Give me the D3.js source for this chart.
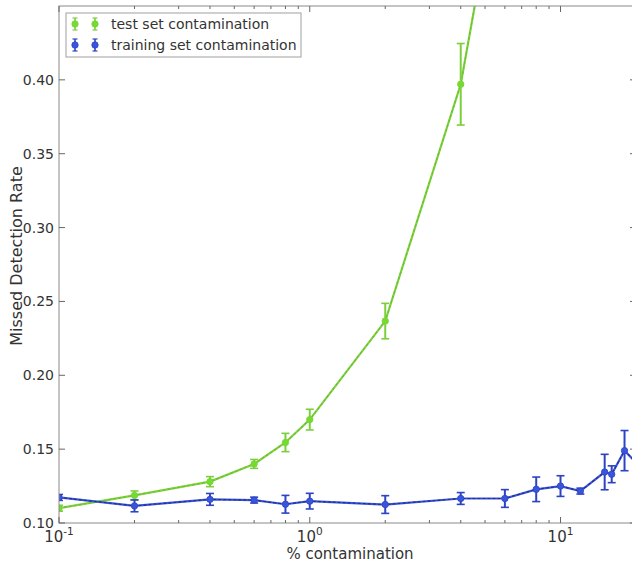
<!DOCTYPE html>
<html>
<head>
<meta charset="utf-8">
<script src="https://cdn.jsdelivr.net/npm/d3@7"></script>
<style>
  html, body { margin: 0; padding: 0; background: #fff; }
  svg { display: block; font-family: "DejaVu Sans", sans-serif; }
</style>
</head>
<body>
<svg id="chart" width="632" height="565"></svg>
<script>
// Contamination levels (%) and missed detection rates with their error bars
const testX   = [0.1, 0.2, 0.4, 0.6, 0.8, 1, 2, 4, 6];
const testY   = [0.110, 0.1187, 0.128, 0.140, 0.1545, 0.170, 0.2367, 0.397, 0.564];
const testErr = [0.002, 0.003, 0.0034, 0.003, 0.0062, 0.007, 0.012, 0.0276, 0.03];

const trainX   = [0.1, 0.2, 0.4, 0.6, 0.8, 1, 2, 4, 6, 8, 10, 12, 15, 16, 18, 20];
const trainY   = [0.1173, 0.1116, 0.116, 0.1155, 0.1127, 0.1148, 0.1125, 0.1166, 0.1166, 0.1228, 0.125, 0.1216, 0.1345, 0.133, 0.149, 0.141];
const trainErr = [0.002, 0.004, 0.004, 0.002, 0.006, 0.0053, 0.006, 0.004, 0.006, 0.0083, 0.007, 0.002, 0.012, 0.0057, 0.0136, 0.006];

const yTicks = [0.10, 0.15, 0.20, 0.25, 0.30, 0.35, 0.40];
const xMajor = [0.1, 1, 10];
const xMinor = [0.2,0.3,0.4,0.5,0.6,0.7,0.8,0.9,2,3,4,5,6,7,8,9,20];
const seriesNames = ["test set contamination", "training set contamination"];

const svg = d3.select("#chart");
const L = 59, R = 636, T = 6, B = 523;

const x = d3.scaleLog().domain([0.1, 20]).range([L, R]);
const y = d3.scaleLinear().domain([0.10, 0.45]).range([B, T]);

const series = [
  { name: seriesNames[0], xs: testX, ys: testY, es: testErr,
    color: "#72dd2c", bar: "#7ccf3c", dash: "#8d9a66" },
  { name: seriesNames[1], xs: trainX, ys: trainY, es: trainErr,
    color: "#3a55dc", bar: "#2c44c4", dash: "#1c2670" }
];

svg.append("clipPath").attr("id", "plotClip")
  .append("rect").attr("x", L).attr("y", T).attr("width", R - L).attr("height", B - T);

const plot = svg.append("g").attr("clip-path", "url(#plotClip)");

series.forEach(s => {
  const pts = s.xs.map((v, i) => ({ x: v, y: s.ys[i], e: s.es[i] }));
  const line = d3.line().x(d => x(d.x)).y(d => y(d.y));
  plot.append("path").datum(pts).attr("d", line)
    .attr("fill", "none").attr("stroke", s.color).attr("stroke-width", 2.2);
  plot.append("path").datum(pts).attr("d", line)
    .attr("fill", "none").attr("stroke", s.dash).attr("stroke-width", 1.1)
    .attr("stroke-dasharray", "3,2").attr("opacity", 0.8);

  const eb = plot.append("g").selectAll("g").data(pts).join("g");
  eb.append("line")
    .attr("x1", d => x(d.x)).attr("x2", d => x(d.x))
    .attr("y1", d => y(d.y - d.e)).attr("y2", d => y(d.y + d.e))
    .attr("stroke", s.bar).attr("stroke-width", 2);
  [1, -1].forEach(sgn => {
    eb.append("line")
      .attr("x1", d => x(d.x) - 4).attr("x2", d => x(d.x) + 4)
      .attr("y1", d => y(d.y + sgn * d.e)).attr("y2", d => y(d.y + sgn * d.e))
      .attr("stroke", s.bar).attr("stroke-width", 1.6);
  });
  plot.append("g").selectAll("circle").data(pts).join("circle")
    .attr("cx", d => x(d.x)).attr("cy", d => y(d.y)).attr("r", 3.2)
    .attr("fill", s.color).attr("stroke", s.bar).attr("stroke-width", 0.8);
});

// Frame
const axisColor = "#8a8a8a";
svg.append("rect").attr("x", L).attr("y", T).attr("width", R - L).attr("height", B - T)
  .attr("fill", "none").attr("stroke", axisColor).attr("stroke-width", 1);

// Inward ticks on all four sides
const tk = svg.append("g").attr("stroke", "#666").attr("stroke-width", 1);
yTicks.forEach(v => {
  tk.append("line").attr("x1", L).attr("x2", L + 6).attr("y1", y(v)).attr("y2", y(v));
  tk.append("line").attr("x1", R).attr("x2", R - 6).attr("y1", y(v)).attr("y2", y(v));
});
xMajor.forEach(v => {
  tk.append("line").attr("x1", x(v)).attr("x2", x(v)).attr("y1", B).attr("y2", B - 6);
  tk.append("line").attr("x1", x(v)).attr("x2", x(v)).attr("y1", T).attr("y2", T + 6);
});
xMinor.forEach(v => {
  tk.append("line").attr("x1", x(v)).attr("x2", x(v)).attr("y1", B).attr("y2", B - 3);
  tk.append("line").attr("x1", x(v)).attr("x2", x(v)).attr("y1", T).attr("y2", T + 3);
});

// Y tick labels
svg.append("g").selectAll("text").data(yTicks).join("text")
  .attr("x", L - 5).attr("y", d => y(d)).attr("dy", "0.36em")
  .attr("text-anchor", "end").attr("font-size", 14).attr("fill", "#333")
  .text(d => d.toFixed(2));

// X tick labels as powers of ten
const xl = svg.append("g").selectAll("text").data(xMajor).join("text")
  .attr("x", d => x(d)).attr("y", 542).attr("text-anchor", "middle")
  .attr("font-size", 15).attr("fill", "#333");
xl.append("tspan").text("10");
xl.append("tspan").attr("dy", -7).attr("font-size", 10.5)
  .text(d => String(Math.round(Math.log10(d))));

// Axis titles
svg.append("text").attr("x", 350).attr("y", 559).attr("text-anchor", "middle")
  .attr("font-size", 15).attr("fill", "#333").text("% contamination");
svg.append("text").attr("transform", "translate(22,256) rotate(-90)")
  .attr("text-anchor", "middle").attr("font-size", 16).attr("fill", "#333")
  .text("Missed Detection Rate");

// Legend
const lg = svg.append("g");
lg.append("rect").attr("x", 66).attr("y", 13).attr("width", 235).attr("height", 44)
  .attr("fill", "#fff").attr("stroke", "#a0a0a0").attr("stroke-width", 1);
series.forEach((s, i) => {
  const cy = 24 + i * 21;
  [75, 95].forEach(cx => {
    lg.append("line").attr("x1", cx).attr("x2", cx).attr("y1", cy - 6).attr("y2", cy + 6)
      .attr("stroke", s.bar).attr("stroke-width", 1.6);
    lg.append("line").attr("x1", cx - 2.5).attr("x2", cx + 2.5).attr("y1", cy - 6).attr("y2", cy - 6)
      .attr("stroke", s.bar).attr("stroke-width", 1.2);
    lg.append("line").attr("x1", cx - 2.5).attr("x2", cx + 2.5).attr("y1", cy + 6).attr("y2", cy + 6)
      .attr("stroke", s.bar).attr("stroke-width", 1.2);
    lg.append("circle").attr("cx", cx).attr("cy", cy).attr("r", 3.2)
      .attr("fill", s.color).attr("stroke", s.bar).attr("stroke-width", 0.8);
  });
  lg.append("text").attr("x", 111).attr("y", cy).attr("dy", "0.36em")
    .attr("font-size", 14).attr("fill", "#333").text(s.name);
});
</script>
</body>
</html>
